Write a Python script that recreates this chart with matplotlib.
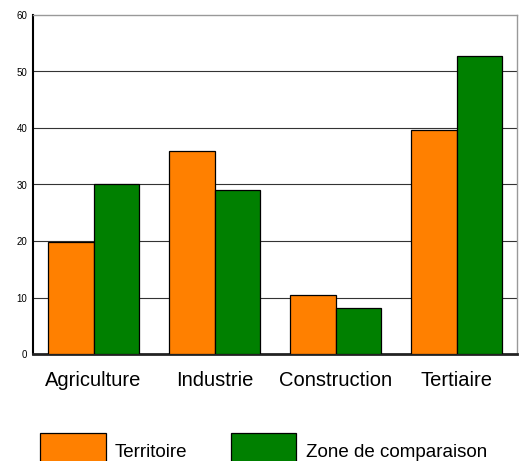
import numpy as np
import matplotlib
matplotlib.use('Agg')
import matplotlib.pyplot as plt
from matplotlib.patches import Patch

# data
categories = ['Agriculture', 'Industrie', 'Construction', 'Tertiaire']
territoire = [19.9, 35.9, 10.4, 39.6]
zone_comparaison = [30.1, 29.1, 8.1, 52.8]
series_names = ['Territoire', 'Zone de comparaison']

plt.rcParams['font.family'] = ['Liberation Sans', 'DejaVu Sans']

fig = plt.figure(figsize=(5.28, 4.61), dpi=100)
ax = fig.add_axes([33 / 528, 1 - 354 / 461, 484 / 528, 339 / 461])

x = np.arange(len(categories))
w = 0.372
ax.bar(x - w / 2, territoire, w, color='#FF8000', edgecolor='black', linewidth=0.9, zorder=3)
ax.bar(x + w / 2, zone_comparaison, w, color='#008000', edgecolor='black', linewidth=0.9, zorder=3)

ax.set_xlim(-0.5, len(categories) - 0.5)
ax.set_ylim(0, 60)
ax.set_yticks(range(0, 61, 10))
ax.tick_params(axis='y', labelsize=7, length=0, pad=4)
ax.tick_params(axis='x', labelsize=14.5, length=0, pad=12)
ax.set_xticks(x)
ax.set_xticklabels(categories)

for yv in range(10, 60, 10):
    ax.axhline(yv, color='#333333', linewidth=0.8, zorder=1)

ax.spines['left'].set_color('black')
ax.spines['left'].set_linewidth(1.5)
ax.spines['bottom'].set_color('#222222')
ax.spines['bottom'].set_linewidth(2)
ax.spines['top'].set_color('#999999')
ax.spines['top'].set_linewidth(1)
ax.spines['right'].set_color('#999999')
ax.spines['right'].set_linewidth(1)

handles = [Patch(facecolor='#FF8000', edgecolor='black', linewidth=0.9),
           Patch(facecolor='#008000', edgecolor='black', linewidth=0.9)]
fig.legend(handles, series_names, loc='upper left', bbox_to_anchor=(40 / 528, 1 - 433 / 461),
           ncol=2, frameon=False, fontsize=13.5, handlelength=3.5, handleheight=2.6,
           handletextpad=0.5, columnspacing=2.3, borderpad=0, borderaxespad=0)

fig.savefig('out.png', dpi=100)
